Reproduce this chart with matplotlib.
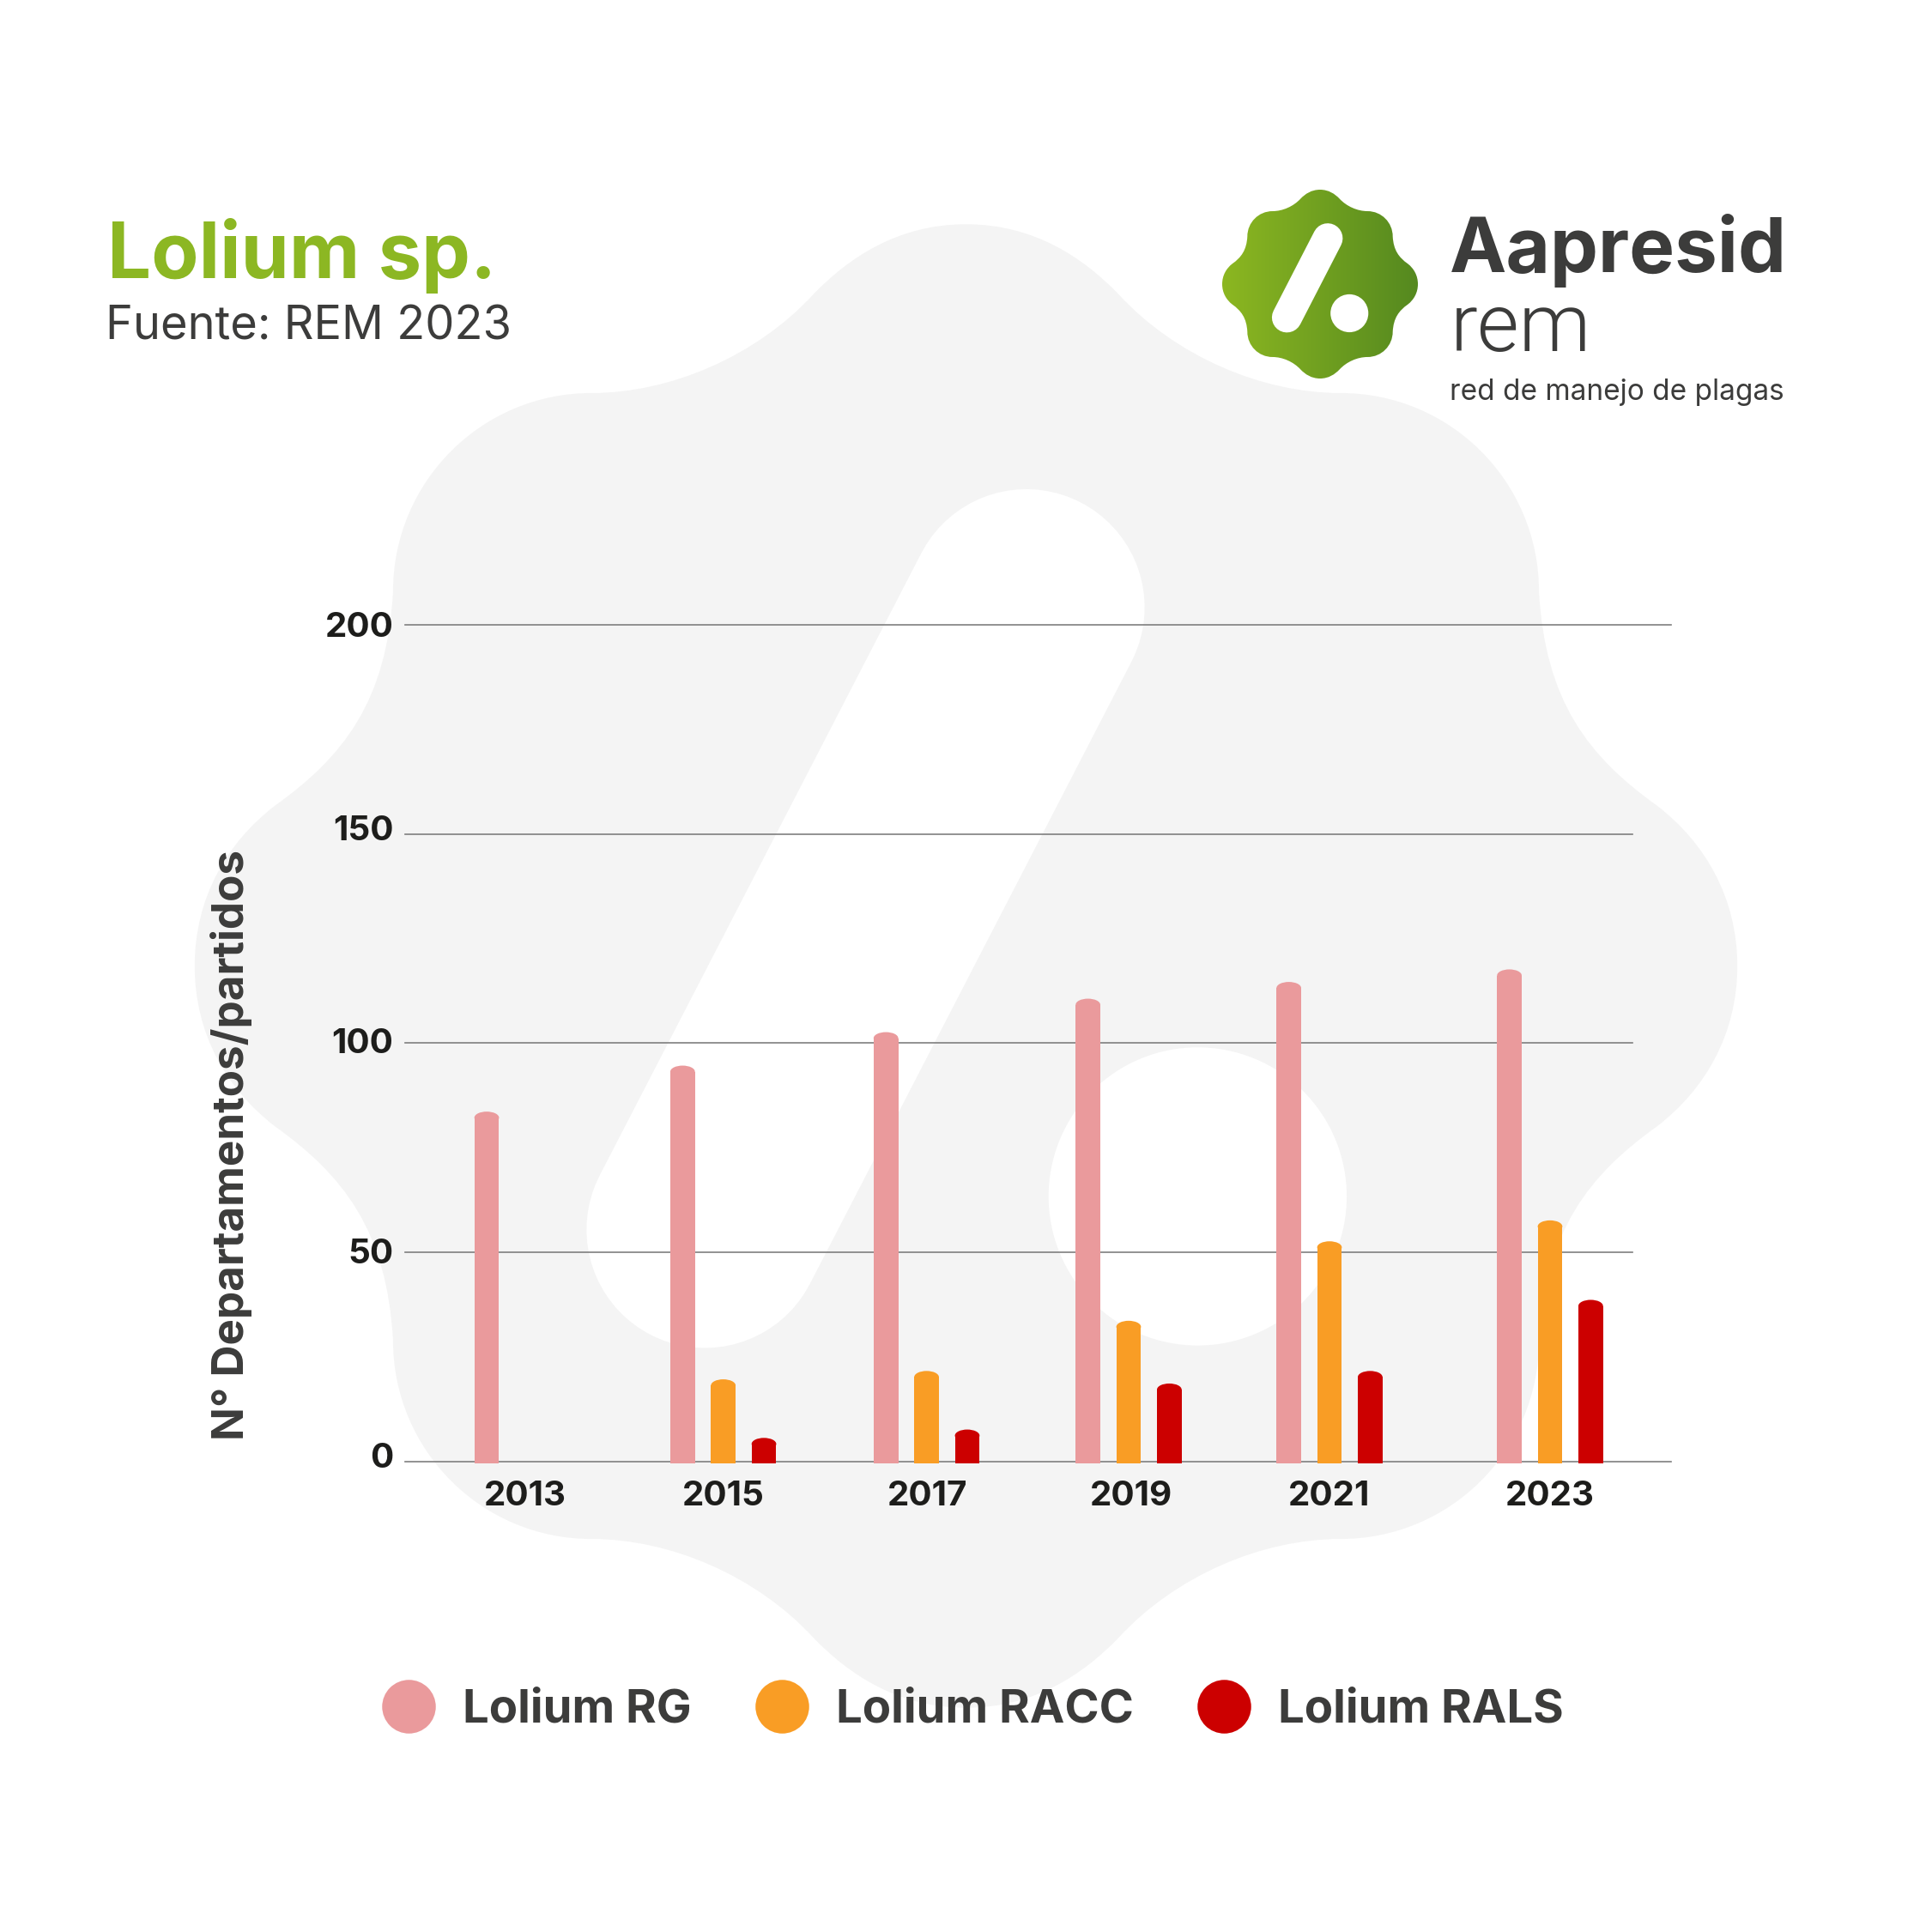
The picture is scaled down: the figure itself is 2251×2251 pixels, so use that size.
import numpy as np
import matplotlib
matplotlib.use("Agg")
import matplotlib.pyplot as plt
from matplotlib.path import Path
from matplotlib.patches import PathPatch, Ellipse
from matplotlib.lines import Line2D
from matplotlib.colors import LinearSegmentedColormap
from matplotlib.transforms import ScaledTranslation

# ---- data ----
years = ["2013", "2015", "2017", "2019", "2021", "2023"]
series_names = ["Lolium RG", "Lolium RACC", "Lolium RALS"]
lolium_rg = [83, 94, 102, 110, 114, 117]
lolium_racc = [0, 19, 21, 33, 52, 57]
lolium_rals = [0, 5, 7, 18, 21, 38]
y_ticks = [0, 50, 100, 150, 200]

# ---- layout / style ----
W = 2251
S = W / 1568.0
GROUP_X = [428, 587, 752, 916, 1079, 1258]
TICK_X = [426, 587, 753, 918, 1079, 1258]
Y_LABEL_LIFT = [5, 1, 2, 5, 0]
OFFSETS = [-33, 0, 33]
BAR_W = 20
CAP = 1.45
CAP_LIFT = 0.6
COLORS = ["#ea9a9c", "#f99d25", "#cc0000"]
DARK = "#3c3c3b"
BLACK = "#1d1d1b"
GREEN = "#8cb723"
FONT = "Inter"

plt.rcParams["font.family"] = [FONT, "DejaVu Sans"]
fig = plt.figure(figsize=(W / 100, W / 100), dpi=100, facecolor="white")

bg = fig.add_axes([0, 0, 1, 1], zorder=0)
bg.set_xlim(0, W)
bg.set_ylim(W, 0)
bg.axis("off")

# one quarter of the emblem outline (top peak -> right peak), in emblem units
TOP = [((55, 602), (95, 575), (124, 545)),
       ((170, 495), (240, 465), (304, 465)),
       ((393, 465), (465, 393), (465, 304))]
SIDE = [((470, 215), (505, 170), (561, 130)),
        ((600, 100), (626, 55), (626, 0))]


def blob_path(cx, cy, sx, sy):
    q = [p for seg in TOP + SIDE for p in seg]
    q = np.array(q, float)
    verts = [np.array([[0, 602]], float), q]
    verts.append(np.r_[q[-2::-1] * [1, -1], [[0, -602]]])
    right = np.vstack(verts)
    left = right[-2::-1] * [-1, 1]
    all_v = np.vstack([right, left])
    codes = [Path.MOVETO] + [Path.CURVE4] * (len(all_v) - 1)
    all_v = np.c_[cx + sx * all_v[:, 0], cy - sy * all_v[:, 1]]
    return Path(all_v, codes)


def glyph(ax, cx, cy, sx, sy, z):
    # white slash and dot of the emblem
    ax.plot([cx + 49 * sx, cx - 212 * sx], [cy - 292 * sy, cy + 213 * sy],
            color="white", lw=2 * 96 * sx * 0.72, solid_capstyle="round", zorder=z)
    ax.add_patch(Ellipse((cx + 188 * sx, cy + 186 * sy), 242 * sx, 242 * sy,
                         fc="white", ec="none", zorder=z))


# large watermark
bg.add_patch(PathPatch(blob_path(784 * S, 784 * S, S, S), fc="#f4f4f4", ec="none", zorder=1))
glyph(bg, 784 * S, 785 * S, S, S, 2)

# logo emblem
lcx, lcy, lsx, lsy = 1538, 331, 114 / 626, 110 / 602
cmap = LinearSegmentedColormap.from_list("g", ["#8cb721", "#55891f"])
im = bg.imshow(np.linspace(0, 1, 256).reshape(1, -1), cmap=cmap, aspect="auto",
               extent=(lcx - 114, lcx + 114, lcy + 110, lcy - 110), zorder=3)
clip = PathPatch(blob_path(lcx, lcy, lsx, lsy), fc="none", ec="none", transform=bg.transData)
bg.add_patch(clip)
im.set_clip_path(clip)
bg.set_xlim(0, W)
bg.set_ylim(W, 0)
glyph(bg, lcx, lcy, lsx, lsy, 4)

# texts
bg.text(125, 324, "Lolium sp.", color=GREEN, fontsize=65, fontweight="bold", va="baseline", zorder=5)
bg.text(123, 396, "Fuente: REM 2023", color=DARK, fontsize=39, va="baseline", zorder=5)
bg.text(1689, 317, "Aapresid", color=DARK, fontsize=64, fontweight="bold", va="baseline", zorder=5)
bg.text(1690, 409, "rem", color=DARK, fontsize=68, fontweight=300, family="Roboto", va="baseline", zorder=5)
bg.text(1689, 466, "red de manejo de plagas", color=DARK, fontsize=24, va="baseline", zorder=5)

# chart
y0, y200 = 1186 * S, 507 * S
ax = fig.add_axes([329 * S / W, 1 - y0 / W, 1027 * S / W, (y0 - y200) / W], zorder=2)
ax.patch.set_alpha(0)
ax.set_xlim(329, 1356)
ax.set_ylim(0, 200)
for sp in ax.spines.values():
    sp.set_visible(False)

for t in y_ticks:
    ax.plot([329, 1356 if t in (0, 200) else 1325], [t, t], color="#7f7f7f", lw=1.2, zorder=1, clip_on=False)

for name, vals, off, col in zip(series_names, [lolium_rg, lolium_racc, lolium_rals], OFFSETS, COLORS):
    for gx, v in zip(GROUP_X, vals):
        if v <= 0:
            continue
        top = v - CAP + CAP_LIFT
        ax.bar(gx + off, top + 0.4, bottom=-0.4, width=BAR_W, color=col, lw=0, zorder=2, clip_on=False)
        ax.add_patch(Ellipse((gx + off, top), BAR_W, 2 * CAP, fc=col, ec="none", zorder=2))

ax.set_xticks(TICK_X, years)
ax.set_yticks(y_ticks, [str(t) for t in y_ticks])
ax.tick_params(axis="both", length=0, labelsize=29, labelcolor=BLACK)
ax.tick_params(axis="x", pad=16)
ax.tick_params(axis="y", pad=10)
for lab in ax.get_xticklabels() + ax.get_yticklabels():
    lab.set_fontweight("bold")
for lab, lift in zip(ax.get_yticklabels(), Y_LABEL_LIFT):
    lab.set_transform(lab.get_transform() + ScaledTranslation(0, lift * S / 100, fig.dpi_scale_trans))
ax.set_ylabel("N° Departamentos/partidos", fontsize=36.8, fontweight="bold", color=DARK, labelpad=0)
ax.yaxis.set_label_coords((205 - 329) / 1027, (1186 - 929) / 679)

handles = [Line2D([], [], ls="none", marker="o", ms=45, mfc=c, mec="none") for c in COLORS]
leg = ax.legend(handles, series_names, ncol=3, frameon=False, loc="center",
                bbox_to_anchor=((791 - 329) / 1027, (1186 - 1388) / 679),
                handlelength=1.0, handletextpad=0.65, columnspacing=1.44,
                prop={"size": 39.2, "weight": "bold"}, labelcolor=DARK, borderpad=0, borderaxespad=0)

fig.savefig("out.png", dpi=100, facecolor="white")
